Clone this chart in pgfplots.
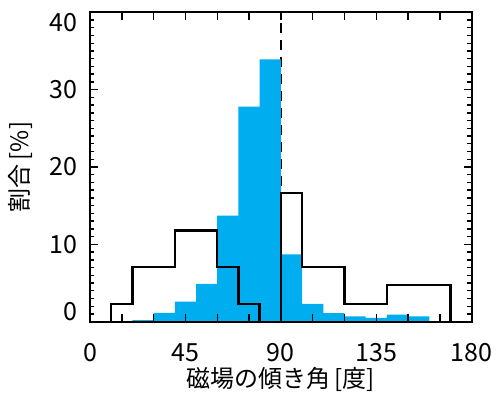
\documentclass[border=0pt]{standalone}
\usepackage{pgfplots}
\pgfplotsset{compat=1.18}
\usepackage{fontspec}
\setmainfont{Noto Sans CJK JP}
\definecolor{histblue}{RGB}{0,174,239}
\begin{document}
\begin{tikzpicture}
\useasboundingbox (-90pt,-73.3pt) rectangle (406pt,321.7pt);
\begin{axis}[
  at={(0,0)}, anchor=south west,
  scale only axis, width=381.7pt, height=309.4pt,
  xmin=0, xmax=180, ymin=0, ymax=40,
  axis on top,
  xtick={0,15,...,180},
  xticklabels={0,,,45,,,90,,,135,,,180},
  ytick={0,10,...,40},
  minor y tick num=9,
  yticklabel={\ifnum\ticknum=4 \raisebox{-10pt}[\height][\depth]{40}\else\ifnum\ticknum=0 \raisebox{10pt}[\height][\depth]{0}\else\pgfmathprintnumber{\tick}\fi\fi},
  tick align=inside,
  major tick length=8pt, minor tick length=4.5pt,
  every tick/.style={line width=1.4pt, black},
  axis line style={line width=2pt},
  /pgf/number format/assume math mode=true,
  tick label style={font=\fontsize{25}{30}\selectfont},
  xticklabel style={anchor=base, yshift=-39.5pt},
  yticklabel style={anchor=east, xshift=-9pt},
  label style={font=\fontsize{24}{28}\selectfont},
  xlabel={磁場の傾き角\,[度]},
  xlabel style={at={(axis description cs:0.5,0)}, anchor=center, yshift=-58pt},
  ylabel={割合\,[\%]},
  ylabel style={at={(axis description cs:0,0.5)}, anchor=center, rotate=0, yshift=70pt},
]
\addplot[black, line width=2pt, dash pattern=on 10pt off 7pt] coordinates {(90,0) (90,40)};
\addplot[draw=none, fill=histblue, const plot mark left] coordinates {
(20,0.2) (30,1.15) (40,2.6) (50,4.9) (60,13.7) (70,27.8) (80,33.9) (90,8.7)
(100,2.3) (110,1.1) (120,0.7) (130,0.5) (140,0.9) (150,0.7) (160,0.7)} \closedcycle;
\addplot[black, line width=2.3pt, const plot mark left] coordinates {
(10,0) (10,2.3) (20,7.1) (40,11.8) (60,7.1) (70,2.3) (80,0) (90,16.6)
(100,7.1) (120,2.3) (140,4.7) (170,4.7) (170,0)};
\end{axis}
\end{tikzpicture}
\end{document}
